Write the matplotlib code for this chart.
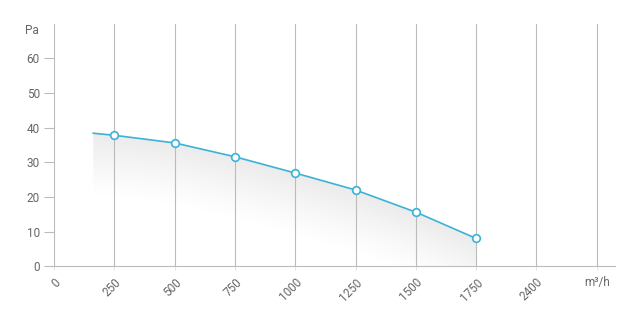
import matplotlib
matplotlib.use("Agg")
import matplotlib.pyplot as plt
import numpy as np
from matplotlib.patches import Polygon

plt.rcParams['font.family'] = ['Roboto', 'DejaVu Sans']

categories = ['0', '250', '500', '750', '1000', '1250', '1500', '1750', '2400', 'm³/h']
flow_pos = [0.65, 1, 2, 3, 4, 5, 6, 7]   # category index positions of line points
pressure = [38.4, 37.8, 35.6, 31.6, 26.9, 22.0, 15.6, 8.0]
marker_show = [False, True, True, True, True, True, True, True]
yticks = [0, 10, 20, 30, 40, 50, 60]

fig = plt.figure(figsize=(6.28, 3.36), dpi=100)
ax = fig.add_axes([0.086, 0.208, 0.893, 0.721])
ax.set_xlim(0, 9.3)
ax.set_ylim(0, 70)

grid_c = '#bbbbbb'
txt_c = '#666666'
line_c = '#3bb3d6'

for i in range(len(categories)):
    ax.axvline(i, color=grid_c, lw=0.8, zorder=1)

for s in ['top', 'right', 'left']:
    ax.spines[s].set_visible(False)
ax.spines['bottom'].set_color(grid_c)
ax.spines['bottom'].set_linewidth(0.8)

ax.set_yticks(yticks)
ax.set_yticklabels([str(v) for v in yticks])
ax.tick_params(axis='y', length=7.2, width=0.8, color=grid_c, labelcolor=txt_c, labelsize=8.5, pad=3)

ax.set_xticks(range(len(categories)))
ax.set_xticklabels(categories)
ax.tick_params(axis='x', length=3, width=0.6, color='#e0e0e0', labelcolor=txt_c, labelsize=8.5, pad=4)
for i, lab in enumerate(ax.get_xticklabels()):
    if categories[i] == 'm³/h':
        lab.set_rotation(0)
        lab.set_ha('center')
    else:
        lab.set_rotation(45)
        lab.set_ha('right')
        lab.set_va('top')
        lab.set_rotation_mode('anchor')

ax.text(-0.25, 68, 'Pa', ha='right', va='center', color=txt_c, fontsize=8.5)

# gradient fill below the line, fading with distance below the line
x = np.array(flow_pos)
y = np.array(pressure)
nx, ny = 400, 400
gx = np.linspace(x.min(), x.max(), nx)
gy = np.linspace(0, 40, ny)
GX, GY = np.meshgrid(gx, gy)
ly = np.interp(GX, x, y)
d = np.clip((ly - GY) / 18.0, 0, 1)
alpha = (1 - d) ** 1.2
rgba = np.zeros((ny, nx, 4))
rgba[..., :3] = 0.925
rgba[..., 3] = alpha * (GY <= ly)
im = ax.imshow(rgba, extent=[x.min(), x.max(), 0, 40], origin='lower', aspect='auto', zorder=0.5, interpolation='bilinear')
poly = Polygon(np.column_stack([np.r_[x, x[-1], x[0]], np.r_[y, 0, 0]]), closed=True, transform=ax.transData, facecolor='none', edgecolor='none')
ax.add_patch(poly)
im.set_clip_path(poly)

ax.plot(x, y, color=line_c, lw=1.2, zorder=3)
mx = [xi for xi, m in zip(x, marker_show) if m]
my = [yi for yi, m in zip(y, marker_show) if m]
ax.plot(mx, my, 'o', ms=5.5, mfc='white', mec=line_c, mew=1.2, zorder=4)

fig.savefig('out.png', dpi=100)
